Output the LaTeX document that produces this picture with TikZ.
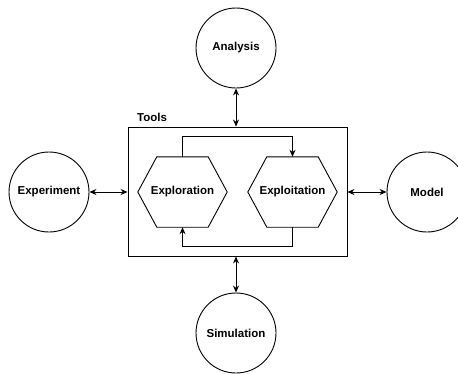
\documentclass[tikz,border=0pt]{standalone}
\usepackage{fontspec}
\setmainfont{Liberation Sans}
\usetikzlibrary{arrows.meta,calc}
\begin{document}
\begin{tikzpicture}[x=1pt,y=-1pt,
  every node/.style={font=\fontsize{11.5}{13}\selectfont\bfseries},
  circ/.style={circle,draw,line width=0.9pt,minimum size=80pt,inner sep=0pt},
  hexbox/.style={draw=none,minimum width=89pt,minimum height=70pt,inner sep=0pt},
  hexline/.style={line width=0.9pt,line join=miter},
  link/.style={line width=0.9pt,{Stealth[length=7pt,width=6pt]}-{Stealth[length=7pt,width=6pt]}},
  flow/.style={line width=0.9pt,-{Stealth[length=7pt,width=6pt]}}]
\clip (0,0) rectangle (458,373);
\fill[white] (0,0) rectangle (458,373);
% Tools box
\node[draw,line width=0.9pt,minimum width=219pt,minimum height=129pt,inner sep=0pt] (box) at (237.5,191.5) {};
\node[anchor=south west,inner sep=0pt] (tools) at (137,122) {Tools};
% hexagons
\node[hexbox] (expl) at (182.5,192) {Exploration};
\node[hexbox] (expt) at (292.5,192) {Exploitation};
\draw[hexline] ([xshift=19pt]expl.north west) -- ([xshift=-19pt]expl.north east) -- (expl.east)
  -- ([xshift=-19pt]expl.south east) -- ([xshift=19pt]expl.south west) -- (expl.west) -- cycle;
\draw[hexline] ([xshift=19pt]expt.north west) -- ([xshift=-19pt]expt.north east) -- (expt.east)
  -- ([xshift=-19pt]expt.south east) -- ([xshift=19pt]expt.south west) -- (expt.west) -- cycle;
% circles
\node[circ] (analysis) at (236,48) {Analysis};
\node[circ] (experiment) at (49,192) {Experiment};
\node[circ] (model) at (427,192) {Model};
\node[circ] (simulation) at (236,333) {Simulation};
% links
\draw[link] (analysis.south) -- (analysis.south |- box.north);
\draw[link] (experiment.east) -- (box.west |- experiment.east);
\draw[link] (box.east |- model.west) -- (model.west);
\draw[link] (simulation.north |- box.south) -- (simulation.north);
% loop
\draw[flow] (expl.north) -- ++(0,-20) -| (expt.north);
\draw[flow] (expt.south) -- ++(0,19) -| (expl.south);
\end{tikzpicture}
\end{document}
